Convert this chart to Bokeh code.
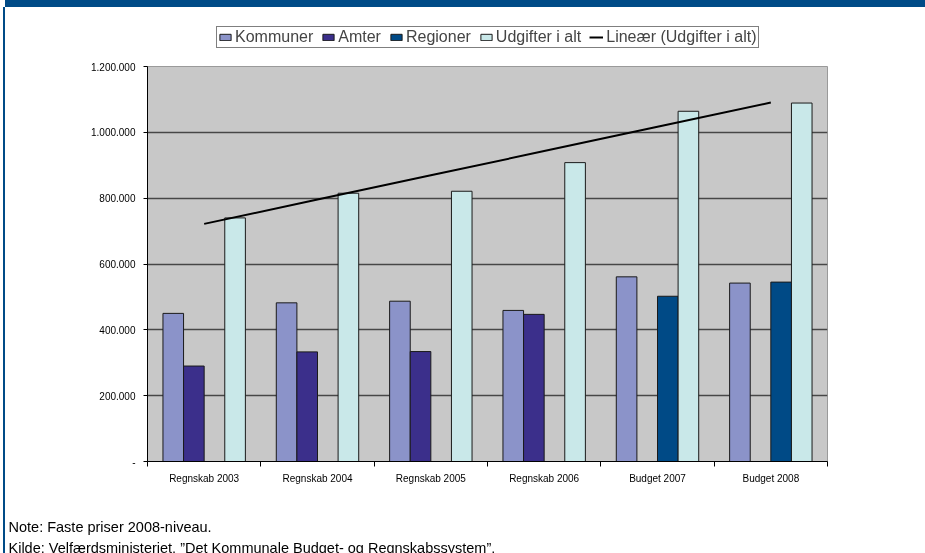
import numpy as np
from bokeh.plotting import figure
from bokeh.models import (ColumnDataSource, FixedTicker, Legend, LegendItem,
                          Label, Range1d)
from bokeh.embed import file_html
from bokeh.resources import INLINE

# ---------------- data ----------------
categories = ["Regnskab 2003", "Regnskab 2004", "Regnskab 2005",
              "Regnskab 2006", "Budget 2007", "Budget 2008"]
kommuner = [450000, 482000, 487000, 459000, 561000, 542000]
amter = [290000, 333000, 334000, 447000, None, None]
regioner = [None, None, None, None, 502000, 545000]
udgifter = [740000, 815000, 821000, 908000, 1064000, 1089000]

series_names = ["Kommuner", "Amter", "Regioner", "Udgifter i alt"]
series_values = [kommuner, amter, regioner, udgifter]
series_colors = ["#8B93C9", "#3B2F8B", "#004A86", "#C9E8E9"]
trend_name = "Lineær (Udgifter i alt)"

y_ticks = [0, 200000, 400000, 600000, 800000, 1000000, 1200000]
y_tick_labels = ["-", "200.000", "400.000", "600.000", "800.000",
                 "1.000.000", "1.200.000"]

note_text = "Note: Faste priser 2008-niveau."
source_text = "Kilde: Velfærdsministeriet, \u201dDet Kommunale Budget- og Regnskabssystem\u201d."

FONT = "Liberation Sans"
BLUE = "#004B87"
BAR_LINE = "#1A1A1A"

# ---------------- main chart ----------------
OX, OY = 5, 7                      # canvas origin on the page
W, H = 920, 546
LEFT, RIGHT, TOP, BOTTOM = 147 - OX, 98, 66 - OY, 92
p = figure(width=W, height=H, x_range=Range1d(0, len(categories)),
           y_range=Range1d(0, 1200000), output_backend="svg",
           toolbar_location=None, min_border_left=LEFT,
           min_border_right=RIGHT, min_border_top=TOP,
           min_border_bottom=BOTTOM)
p.styles = {"position": "fixed", "left": f"{OX}px", "top": f"{OY}px",
            "box-shadow": f"0 -{OY}px 0 0 {BLUE}, -2px 0 0 0 {BLUE}"}
p.background_fill_color = "#C8C8C8"
p.border_fill_color = "white"
p.outline_line_color = "#9A9A9A"
p.outline_line_width = 1

x_centers = np.arange(len(categories)) + 0.5
bar_w = 1 / 5.5
offsets = [-1.5 * bar_w, -0.5 * bar_w, 0.5 * bar_w, 1.5 * bar_w]

for name, vals, col, off in zip(series_names, series_values, series_colors, offsets):
    xs = [x + off for x, v in zip(x_centers, vals) if v is not None]
    ys = [v for v in vals if v is not None]
    src = ColumnDataSource(dict(x=xs, top=ys))
    p.vbar(x="x", top="top", width=bar_w, bottom=0, source=src,
           fill_color=col, line_color=BAR_LINE, line_width=1)

# linear trend line (least-squares on Udgifter i alt)
idx = np.arange(1, len(udgifter) + 1)
slope, intercept = np.polyfit(idx, udgifter, 1)
trend = slope * idx + intercept
p.line(x=x_centers, y=trend, line_color="black", line_width=2)

p.xgrid.visible = False
p.ygrid.ticker = FixedTicker(ticks=y_ticks)
p.ygrid.grid_line_color = "#474747"
p.ygrid.grid_line_width = 1.5

xa = p.xaxis[0]
xa.ticker = FixedTicker(ticks=list(x_centers),
                        minor_ticks=list(range(len(categories) + 1)))
xa.major_label_overrides = {float(c): cat for c, cat in zip(x_centers, categories)}
xa.major_tick_line_color = None
xa.major_tick_out = 0
xa.major_tick_in = 0
xa.minor_tick_line_color = "black"
xa.minor_tick_out = 5
xa.minor_tick_in = 0
xa.axis_line_color = "black"
xa.major_label_standoff = 6
xa.major_label_text_font = FONT
xa.major_label_text_font_size = "10px"
xa.major_label_text_color = "black"

ya = p.yaxis[0]
ya.ticker = FixedTicker(ticks=y_ticks, minor_ticks=[])
ya.major_label_overrides = {t: l for t, l in zip(y_ticks, y_tick_labels)}
ya.major_tick_out = 4
ya.major_tick_in = 0
ya.major_tick_line_color = "black"
ya.minor_tick_line_color = None
ya.axis_line_color = "black"
ya.major_label_standoff = 8
ya.major_label_text_font = FONT
ya.major_label_text_font_size = "10px"
ya.major_label_text_color = "black"


# ---------------- helper canvases for legend and notes ----------------
def blank_fig(w, h, left, top):
    f = figure(width=w, height=h, x_range=Range1d(0, 1), y_range=Range1d(0, 1),
               output_backend="svg", toolbar_location=None, min_border=0,
               min_border_left=0, min_border_right=0, min_border_top=0,
               min_border_bottom=0, x_axis_type=None, y_axis_type=None)
    f.grid.visible = False
    f.outline_line_color = None
    f.background_fill_color = None
    f.border_fill_color = None
    f.styles = {"position": "fixed", "left": f"{left}px", "top": f"{top}px"}
    return f


# legend: proxy renderers with no visible mark (NaN height)
lf = blank_fig(570, 26, 216, 26)
items = []
for name, col in zip(series_names, series_colors):
    r = lf.vbar(x=[0.5], top=[np.nan], bottom=[np.nan], width=0.1,
                fill_color=col, line_color=BAR_LINE)
    items.append(LegendItem(label=name, renderers=[r]))
rl = lf.line(x=[0.5, 0.5], y=[np.nan, np.nan], line_color="black", line_width=2)
items.append(LegendItem(label=trend_name, renderers=[rl]))
legend = Legend(items=items, orientation="horizontal", location="top_left",
                glyph_width=14, glyph_height=8, label_standoff=3, spacing=8,
                padding=1, margin=0, label_height=10,
                label_text_font=FONT, label_text_font_size="16px",
                border_line_color="black", border_line_width=1,
                background_fill_color="white", background_fill_alpha=1)
lf.add_layout(legend)

# notes
nf = blank_fig(925, 48, 0, 505)
for txt, base in [(note_text, 526), (source_text, 547)]:
    nf.add_layout(Label(x=8, y=553 - base, x_units="screen", y_units="screen",
                        text=txt, text_font=FONT, text_font_size="14.5px",
                        text_color="black", text_baseline="alphabetic"))

open("out.html", "w").write(file_html([p, lf, nf], INLINE))
